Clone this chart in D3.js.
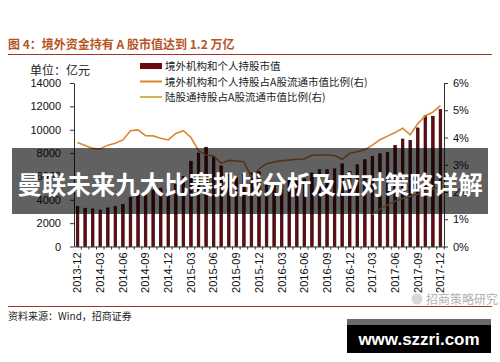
<!DOCTYPE html>
<html>
<head>
<meta charset="utf-8">
<script src="https://cdn.jsdelivr.net/npm/d3@7"></script>
<style>
  body { margin: 0; background: #fff; }
  svg { font-family: "Liberation Sans", Arial, "Noto Sans CJK SC", sans-serif; }
  .cjk { font-family: "Noto Sans CJK SC", sans-serif; }
</style>
</head>
<body>
<script>
var width = 500,
    height = 362;

// months, one bar each
var months = ["2013-12","2014-01","2014-02","2014-03","2014-04","2014-05","2014-06","2014-07","2014-08","2014-09","2014-10","2014-11",
  "2014-12","2015-01","2015-02","2015-03","2015-04","2015-05","2015-06","2015-07","2015-08","2015-09","2015-10","2015-11",
  "2015-12","2016-01","2016-02","2016-03","2016-04","2016-05","2016-06","2016-07","2016-08","2016-09","2016-10","2016-11",
  "2016-12","2017-01","2017-02","2017-03","2017-04","2017-05","2017-06","2017-07","2017-08","2017-09","2017-10","2017-11","2017-12"];

// 境外机构和个人持股市值 (亿元)
var holdings = [3420,3280,3220,3130,3300,3420,3590,4200,4420,4700,4850,5000,
  4900,5300,6000,7300,8000,8500,7700,6900,6200,5900,6200,6300,
  6400,5300,5200,5500,5700,5600,5800,6300,6570,6570,6650,7080,
  6420,7000,7430,7710,7940,8060,8660,9200,9090,10150,11200,11150,11720];

// 境外机构和个人持股占A股流通市值比例 (%)
var foreignRatio = [3.82,3.71,3.60,3.58,3.72,3.79,3.91,4.25,4.28,4.07,4.06,3.97,
  3.91,4.15,4.25,4.0,3.52,3.36,3.32,3.05,3.16,3.14,3.11,2.55,
  2.85,3.04,3.10,3.15,3.17,3.20,3.21,3.35,3.36,3.36,3.34,3.20,
  3.42,3.48,3.55,3.72,3.92,4.05,4.18,4.34,4.10,4.50,4.80,4.93,5.17];

// 陆股通持股占A股流通市值比例 (%), from 2017-03
var connectMonths = ["2017-03","2017-04","2017-05","2017-06","2017-07","2017-08","2017-09","2017-10","2017-11","2017-12"];
var connectRatio = [1.18,1.38,1.52,1.66,1.76,1.84,1.92,2.0,2.1,2.2];

var leftTicks = [0,2000,4000,6000,8000,10000,12000,14000];
var rightTicks = [0,1,2,3,4,5,6];
var legendLabels = ["境外机构和个人持股市值","境外机构和个人持股占A股流通市值比例(右)","陆股通持股占A股流通市值比例(右)"];

var barColor = "#6c0a10",
    lineColor = "#d9882c",
    connectColor = "#d2b060";

var svg = d3.select("body").append("svg")
    .attr("width", width)
    .attr("height", height);

// title
svg.append("text")
    .attr("class", "cjk")
    .attr("x", 8).attr("y", 49)
    .attr("fill", "#b5541e")
    .attr("font-size", 12).attr("font-weight", "bold")
    .text("图 4：境外资金持有 A 股市值达到 1.2 万亿");
svg.append("line")
    .attr("x1", 8).attr("x2", 492).attr("y1", 54.5).attr("y2", 54.5)
    .attr("stroke", "#a8332c").attr("stroke-width", 1);

var x = d3.scaleBand().domain(months).range([74, 444]).paddingInner(0.66).paddingOuter(0.3);
var yL = d3.scaleLinear().domain([0, 14000]).range([246.5, 83]);
var yR = d3.scaleLinear().domain([0, 6]).range([246.5, 83]);
function cx(m) { return x(m) + x.bandwidth() / 2; }

// bars
svg.append("g").selectAll("rect")
    .data(holdings)
    .enter().append("rect")
    .attr("x", function(d, i) { return x(months[i]); })
    .attr("width", x.bandwidth())
    .attr("y", function(d) { return yL(d); })
    .attr("height", function(d) { return yL(0) - yL(d); })
    .attr("fill", barColor)
    .attr("stroke", "#220104")
    .attr("stroke-width", 0.7);

var line = d3.line()
    .x(function(d) { return cx(d[0]); })
    .y(function(d) { return yR(d[1]); });

svg.append("path")
    .attr("d", line(months.map(function(m, i) { return [m, foreignRatio[i]]; })))
    .attr("fill", "none").attr("stroke", lineColor).attr("stroke-width", 1.6);

svg.append("path")
    .attr("d", line(connectMonths.map(function(m, i) { return [m, connectRatio[i]]; })))
    .attr("fill", "none").attr("stroke", connectColor).attr("stroke-width", 1.6);

// axes
var axisL = d3.axisLeft(yL).tickValues(leftTicks).tickSize(4).tickSizeOuter(0).tickFormat(d3.format("d"));
var gL = svg.append("g").attr("transform", "translate(74,0)").call(axisL);
gL.selectAll("text").attr("font-size", 11).attr("fill", "#111").attr("x", -13);

var axisR = d3.axisRight(yR).tickValues(rightTicks).tickSize(4).tickSizeOuter(0)
    .tickFormat(function(d) { return d + "%"; });
var gR = svg.append("g").attr("transform", "translate(444,0)").call(axisR);
gR.selectAll("text").attr("font-size", 11).attr("fill", "#111").attr("x", 9);

var axisB = d3.axisBottom(x).tickSize(3).tickSizeOuter(0)
    .tickFormat(function(d, i) { return i % 3 === 0 ? d : ""; });
var gB = svg.append("g").attr("transform", "translate(0,246.5)").call(axisB);
gB.selectAll(".tick line").attr("transform", "translate(" + (x.step() / 2) + ",0)");
gB.selectAll("text")
    .attr("font-size", 11).attr("fill", "#111")
    .attr("transform", "rotate(-90)")
    .attr("x", -6).attr("y", 0).attr("dy", "0.35em")
    .attr("text-anchor", "end");
svg.selectAll(".domain").attr("stroke", "#333");
svg.selectAll(".tick line").attr("stroke", "#333");

// unit + legend
svg.append("text").attr("class", "cjk")
    .attr("x", 30).attr("y", 75).attr("font-size", 12).attr("fill", "#222")
    .text("单位：亿元");

var legend = svg.append("g").attr("class", "cjk");
legendLabels.forEach(function(t, i) {
    var ly = 66 + i * 15.5;
    if (i === 0) {
        legend.append("rect").attr("x", 140).attr("y", ly - 3).attr("width", 22).attr("height", 6).attr("fill", "#6e0a0e");
    } else {
        legend.append("line").attr("x1", 140).attr("x2", 162).attr("y1", ly).attr("y2", ly)
            .attr("stroke", i === 1 ? lineColor : connectColor).attr("stroke-width", 2);
    }
    legend.append("text").attr("x", 165).attr("y", ly + 4).attr("font-size", 10.5).attr("fill", "#222").text(t);
});

// source
svg.append("line")
    .attr("x1", 8).attr("x2", 492).attr("y1", 306.5).attr("y2", 306.5)
    .attr("stroke", "#a8332c").attr("stroke-width", 1);
svg.append("text").attr("class", "cjk")
    .attr("x", 8).attr("y", 320).attr("font-size", 10).attr("fill", "#222")
    .text("资料来源：Wind，招商证券");
svg.append("text").attr("class", "cjk")
    .attr("x", 426).attr("y", 304).attr("font-size", 12).attr("fill", "#b0b0b0")
    .text("招商策略研究");
svg.append("circle").attr("cx", 417).attr("cy", 299).attr("r", 5.5).attr("fill", "#d8d8d8");

// overlay banner
svg.append("rect")
    .attr("x", 12).attr("y", 148).attr("width", 476).attr("height", 66)
    .attr("fill", "#000").attr("fill-opacity", 0.62);
svg.append("text").attr("class", "cjk")
    .attr("x", 250).attr("y", 194).attr("text-anchor", "middle")
    .attr("font-size", 24.5).attr("font-weight", "bold").attr("fill", "#fff")
    .text("曼联未来九大比赛挑战分析及应对策略详解");

// site stamp
svg.append("rect").attr("x", 347).attr("y", 319).attr("width", 144).attr("height", 34).attr("fill", "#000");
svg.append("rect").attr("x", 347).attr("y", 319).attr("width", 144).attr("height", 6).attr("fill", "#6a6a6a");
svg.append("text")
    .attr("x", 419).attr("y", 345).attr("text-anchor", "middle")
    .attr("font-size", 17).attr("font-weight", "bold").attr("fill", "#fff")
    .text("www.szzri.com");
</script>
</body>
</html>
